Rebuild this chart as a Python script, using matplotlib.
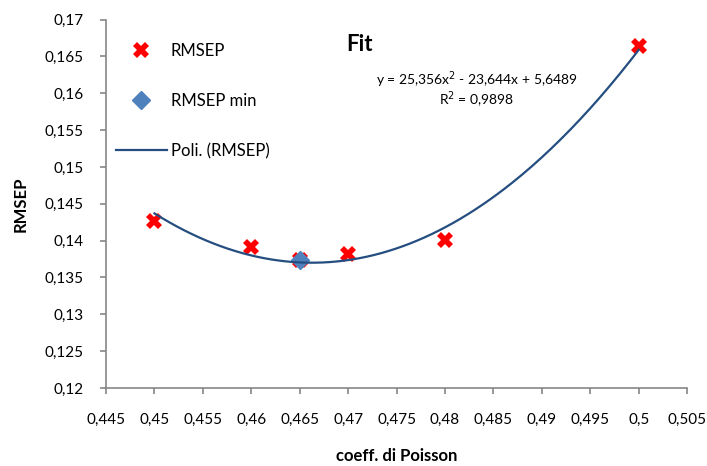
import numpy as np
import matplotlib.pyplot as plt
from matplotlib.ticker import FuncFormatter, MultipleLocator

plt.rcParams['font.family'] = ['Lato', 'DejaVu Sans']

poisson = [0.45, 0.46, 0.465, 0.47, 0.48, 0.5]
rmsep = [0.1427, 0.1392, 0.1374, 0.1382, 0.1401, 0.1664]
min_x = [0.465]
min_y = [0.1374]
coeffs = [25.356, -23.644, 5.6489]  # Excel trendline, as printed on the chart

def comma(v, pos):
    s = f'{v:.3f}'.rstrip('0').rstrip('.')
    return s.replace('.', ',')

fig = plt.figure(figsize=(7.07, 4.66), dpi=100)
ax = fig.add_axes([0.150, 0.1674, 0.822, 0.7906])

xfit = np.linspace(min(poisson), max(poisson), 200)
yfit = np.polyval(coeffs, xfit)

pts, = ax.plot(poisson, rmsep, linestyle='none', marker='X', markersize=11,
               color='#ff0000', markeredgewidth=0, label='RMSEP', zorder=3)
mn, = ax.plot(min_x, min_y, linestyle='none', marker='D', markersize=9.5,
              color='#4f81bd', label='RMSEP min', zorder=4)
fit, = ax.plot(xfit, yfit, color='#254e80', linewidth=1.6, label='Poli. (RMSEP)', zorder=5)

ax.set_xlim(0.445, 0.505)
ax.set_ylim(0.12, 0.17)
ax.xaxis.set_major_locator(MultipleLocator(0.005))
ax.yaxis.set_major_locator(MultipleLocator(0.005))
ax.xaxis.set_major_formatter(FuncFormatter(comma))
ax.yaxis.set_major_formatter(FuncFormatter(comma))

for s in ['top', 'right']:
    ax.spines[s].set_visible(False)
for s in ['left', 'bottom']:
    ax.spines[s].set_color('#868686')
    ax.spines[s].set_linewidth(1.2)
ax.tick_params(direction='out', length=4, width=1.2, color='#868686',
               labelsize=11, labelcolor='black')
ax.tick_params(axis='x', pad=14)
ax.tick_params(axis='y', pad=12.5)

ax.set_xlabel('coeff. di Poisson', fontsize=12, fontweight='bold')
ax.set_ylabel('RMSEP', fontsize=12, fontweight='bold')
ax.xaxis.set_label_coords(0.5, -0.163)
ax.yaxis.set_label_coords(-0.134, 0.5)

fig.text(0.508, 0.905, 'Fit', fontsize=16, fontweight='bold', ha='center', va='center')

ax.text(0.4833, 0.1618, 'y = 25,356x$^2$ - 23,644x + 5,6489', fontsize=10, ha='center', va='center')
ax.text(0.4833, 0.1591, 'R$^2$ = 0,9898', fontsize=10, ha='center', va='center')

leg = ax.legend(handles=[pts, mn, fit], loc='upper left', bbox_to_anchor=(0.152, 0.926),
                bbox_transform=fig.transFigure, frameon=False, fontsize=12,
                labelspacing=2.05, handlelength=3.05, handletextpad=0.25, borderpad=0)

fig.savefig('out.png', dpi=100)
